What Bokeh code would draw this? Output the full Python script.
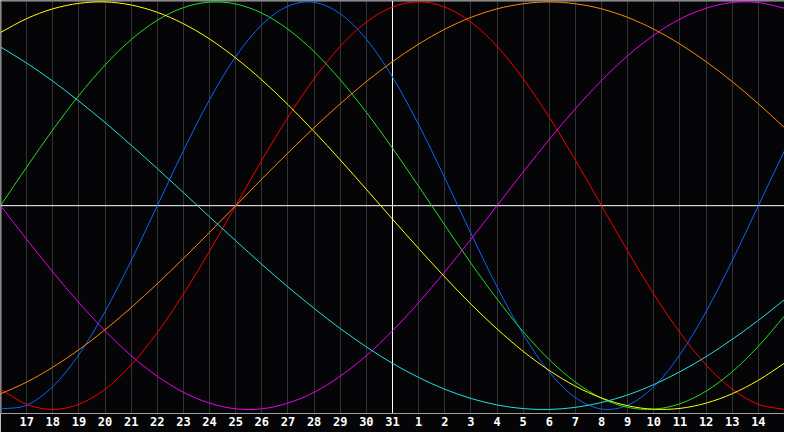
from bokeh.plotting import figure
from bokeh.models import Range1d, FixedTicker, Span, ColumnDataSource
from bokeh.embed import file_html
from bokeh.resources import INLINE

# Days shown (16th of one month to 15th of the next)
days = [16, 17, 18, 19, 20, 21, 22, 23, 24, 25, 26, 27, 28, 29, 30, 31,
        1, 2, 3, 4, 5, 6, 7, 8, 9, 10, 11, 12, 13, 14, 15]

# Cycle values (percent, -100..100), one per day
physical = [-99.8, -97.9, -88.8, -73.1, -52.0, -27.0, 0.0, 27.0, 52.0, 73.1, 88.8, 97.9, 99.8,
            94.2, 81.7, 63.1, 39.8, 13.6, -13.6, -39.8, -63.1, -81.7, -94.2, -99.8, -97.9,
            -88.8, -73.1, -52.0, -27.0, 0.0, 27.0]
emotional = [-90.1, -97.5, -100.0, -97.5, -90.1, -78.2, -62.3, -43.4, -22.3, 0.0, 22.3, 43.4,
             62.3, 78.2, 90.1, 97.5, 100.0, 97.5, 90.1, 78.2, 62.3, 43.4, 22.3, 0.0, -22.3,
             -43.4, -62.3, -78.2, -90.1, -97.5, -100.0]
intellectual = [0.0, 18.9, 37.2, 54.1, 69.0, 81.5, 91.0, 97.2, 99.9, 99.0, 94.5, 86.6, 75.6,
                61.8, 45.8, 28.2, 9.5, -9.5, -28.2, -45.8, -61.8, -75.6, -86.6, -94.5, -99.0,
                -99.9, -97.2, -91.0, -81.5, -69.0, -54.1]
intuitive = [0.0, -16.5, -32.5, -47.6, -61.4, -73.6, -83.7, -91.6, -96.9, -99.7, -99.7, -96.9,
             -91.6, -83.7, -73.6, -61.4, -47.6, -32.5, -16.5, 0.0, 16.5, 32.5, 47.6, 61.4,
             73.6, 83.7, 91.6, 96.9, 99.7, 99.7, 96.9]
aesthetic = [85.0, 91.8, 96.6, 99.3, 100.0, 98.5, 94.9, 89.3, 81.8, 72.5, 61.7, 49.6, 36.4,
             22.5, 8.0, -6.6, -21.0, -35.0, -48.3, -60.5, -71.5, -80.9, -88.6, -94.4, -98.2,
             -99.9, -99.5, -96.9, -92.3, -85.7, -77.3]
awareness = [-92.4, -86.6, -79.3, -70.7, -60.9, -50.0, -38.3, -25.9, -13.1, 0.0, 13.1, 25.9,
             38.3, 50.0, 60.9, 70.7, 79.3, 86.6, 92.4, 96.6, 99.1, 100.0, 99.1, 96.6, 92.4,
             86.6, 79.3, 70.7, 60.9, 50.0, 38.3]
spiritual = [77.9, 70.0, 61.1, 51.3, 40.8, 29.7, 18.2, 6.4, -5.5, -17.2, -28.8, -39.9, -50.4,
             -60.3, -69.3, -77.4, -84.3, -90.1, -94.6, -97.8, -99.6, -100.0, -99.0, -96.6,
             -92.9, -87.8, -81.5, -74.1, -65.6, -56.3, -46.1]

series = [
    (physical, "#0a64ff"),
    (emotional, "#f80000"),
    (intellectual, "#1ee01e"),
    (intuitive, "#ee00ee"),
    (aesthetic, "#ffff00"),
    (awareness, "#ff8800"),
    (spiritual, "#22e0e0"),
]

today_index = days.index(31)
x = list(range(len(days)))

p = figure(width=784, height=432,
           x_range=Range1d(0, len(days) - 1), y_range=Range1d(-102, 100.7),
           output_backend="svg", toolbar_location=None,
           y_axis_location=None,
           min_border_left=0, min_border_right=0, min_border_top=0, min_border_bottom=19)

bg = "#050508"
p.background_fill_color = bg
p.border_fill_color = bg
p.outline_line_color = None

ticks = x[1:-1]
ticker = FixedTicker(ticks=ticks)
p.xaxis.ticker = ticker
p.xaxis.major_label_overrides = {i: str(days[i]) for i in ticks}
p.xaxis.major_tick_line_color = None
p.xaxis.minor_tick_line_color = None
p.xaxis.major_tick_out = 0
p.xaxis.major_tick_in = 0
p.xaxis.axis_line_color = "#a0a0a0"
p.xaxis.major_label_standoff = 3
p.xaxis.major_label_text_color = "white"
p.xaxis.major_label_text_font = "DejaVu Sans Mono"
p.xaxis.major_label_text_font_style = "bold"
p.xaxis.major_label_text_font_size = "12px"

p.xgrid.ticker = ticker
p.xgrid.grid_line_color = "#333333"
p.ygrid.visible = False

# borders (left/top), today line and zero line
p.add_layout(Span(location=0.019, dimension="height", line_color="#a0a0a0", line_width=1, level="underlay"))
p.add_layout(Span(location=100.45, dimension="width", line_color="#a0a0a0", line_width=1, level="underlay"))
p.add_layout(Span(location=today_index, dimension="height", line_color="white", line_width=1, level="underlay"))
p.add_layout(Span(location=0, dimension="width", line_color="white", line_width=1, level="underlay"))


def smooth_segments(xs, ys):
    """Cubic segments passing through every daily value (Catmull-Rom tangents)."""
    n = len(xs)
    ext_x = [2 * xs[0] - xs[1]] + list(xs) + [2 * xs[-1] - xs[-2]]
    ext_y = [2 * ys[0] - ys[1]] + list(ys) + [2 * ys[-1] - ys[-2]]
    d = dict(x0=[], y0=[], x1=[], y1=[], cx0=[], cy0=[], cx1=[], cy1=[])
    for i in range(n - 1):
        p0x, p0y = ext_x[i], ext_y[i]
        p1x, p1y = ext_x[i + 1], ext_y[i + 1]
        p2x, p2y = ext_x[i + 2], ext_y[i + 2]
        p3x, p3y = ext_x[i + 3], ext_y[i + 3]
        d["x0"].append(p1x); d["y0"].append(p1y)
        d["x1"].append(p2x); d["y1"].append(p2y)
        d["cx0"].append(p1x + (p2x - p0x) / 6.0); d["cy0"].append(p1y + (p2y - p0y) / 6.0)
        d["cx1"].append(p2x - (p3x - p1x) / 6.0); d["cy1"].append(p2y - (p3y - p1y) / 6.0)
    return ColumnDataSource(d)


for vals, color in series:
    src = smooth_segments(x, vals)
    p.bezier(x0="x0", y0="y0", x1="x1", y1="y1", cx0="cx0", cy0="cy0",
             cx1="cx1", cy1="cy1", source=src, line_color=color, line_width=1)

open("out.html", "w").write(file_html(p, INLINE))
